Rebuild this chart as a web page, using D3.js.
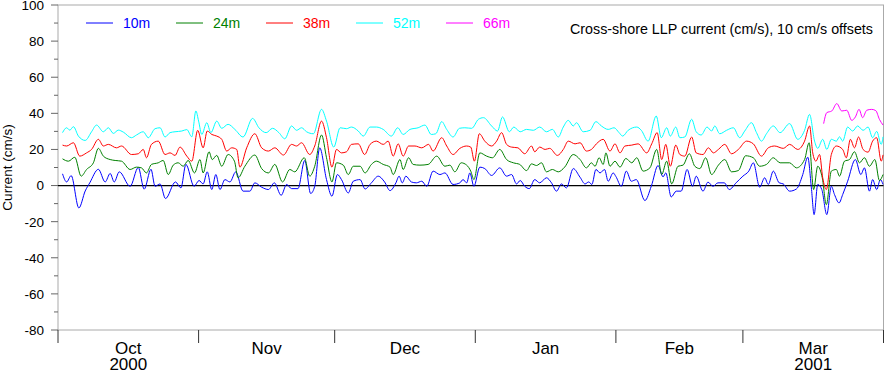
<!DOCTYPE html>
<html>
<head>
<meta charset="utf-8">
<script src="https://cdn.jsdelivr.net/npm/d3@7"></script>
<style>
  body { margin: 0; background: white; }
  svg text { font-family: "Liberation Sans", Arial, Helvetica, sans-serif; }
</style>
</head>
<body>
<div id="chart"></div>
<script>
let w = 885;
let h = 372;

// days since 1 Oct 2000, current (cm/s) with the 10 cm/s offsets already added
let days10 = [1.0,1.9,2.9,4.6,6.0,7.0,8.9,10.4,11.5,12.4,13.5,15.9,17.7,19.0,20.5,21.4,22.5,23.7,25.9,27.1,28.2,30.0,31.1,32.0,32.9,33.9,34.8,35.7,36.8,37.9,39.2,40.8,42.3,43.4,44.9,46.4,47.7,49.2,50.4,51.5,52.9,54.4,55.7,56.6,57.7,59.2,60.4,61.6,62.5,64.0,65.1,66.6,67.7,69.1,70.6,72.0,73.2,74.5,75.2,75.9,76.7,77.9,79.0,80.2,81.3,82.7,84.2,85.3,87.1,88.6,89.3,90.1,90.8,91.7,93.0,94.1,95.6,97.4,98.9,100.0,101.1,101.9,102.9,103.9,105.1,106.2,107.7,108.8,109.9,111.0,112.1,113.6,115.1,116.2,117.0,117.7,118.6,
  119.5,120.5,121.3,122.4,123.0,124.2,125.3,126.4,127.5,129.4,130.8,132.3,133.4,134.0,135.2,136.3,137.4,138.7,139.9,140.7,142.2,143.3,144.4,145.5,146.9,148.0,149.5,151.0,152.3,153.3,154.7,155.8,156.6,157.7,159.0,159.9,161.3,162.8,164.2,165.3,166.1,166.7,167.5,168.4,169.5,170.5,171.2,172.2,173.0,174.1,175.8,177.0,177.8,178.9,179.6,180.5,181.3,181.9];
let cur10 = [6.5,2,5.5,-12.4,-3,1.5,9,2,6.7,2,7.6,-0.4,10,-2,9,-0.4,0.9,-7.2,2,-1.3,11.7,-0.4,2.8,0.9,7.6,-2.2,6.1,-2.2,3.3,2,7.6,-3.1,-3.1,1.5,-0.9,-2.2,1.5,-5.4,0.6,-1.7,-1.7,13.9,-4.4,-0.4,20.9,3.3,-5.9,6.1,3.3,-4.1,2.4,3.3,-1.9,1.5,5.2,2,-2.8,1.5,5.2,1.5,5.2,2,1.5,2.4,-0.4,8,6.1,7,0.6,1.5,3.3,1.5,7,-0.4,10.2,9.4,5.6,9.8,5.2,6.1,0.9,2.8,-0.4,-1.7,3.3,1.5,4.3,1.5,-3.1,0.9,-1.3,9.4,4.6,0.9,2,0.6,8.9,
  7,8.9,2.4,7,5,-0.4,8,2.4,3.3,-8.3,-0.4,11.1,4.8,7,-6.3,-3.1,-3.1,8.9,-0.4,5.2,-3.1,1.9,-0.4,1.5,1.5,-2.2,1.5,5.2,8,12.6,-0.9,4.3,0.6,8,1.5,0.9,-3.1,-1.9,6.1,15.7,-1.3,-16.1,0.6,-2.2,-16.1,-0.4,-5,-9.6,-5,2.4,14.4,6.1,9.8,-3.1,3.3,-2.2,3.3,0.6];

let days24 = [1.0,2.3,3.7,5.1,6.3,7.8,8.9,10.0,11.5,12.6,14.0,15.9,17.3,18.4,19.5,20.6,22.1,23.2,24.3,25.4,26.5,27.6,28.7,30.1,31.3,32.0,33.3,34.0,35.0,36.1,37.5,38.9,39.7,41.2,43.4,44.9,46.4,47.8,49.5,51.1,52.2,54.3,55.5,56.6,58.1,59.2,60.4,61.4,62.9,64.0,65.1,66.6,67.7,69.1,70.2,71.7,73.2,73.9,75.4,76.1,77.3,78.3,79.8,81.6,83.5,85.3,86.4,87.5,88.9,90.1,91.0,91.7,93.0,94.5,95.8,97.4,98.9,100.4,101.8,103.3,104.4,105.5,106.6,107.7,109.0,110.3,111.7,113.6,115.1,116.5,117.6,118.4,119.3,120.2,120.8,121.7,122.8,123.9,125.2,126.5,127.6,129.0,130.5,132.0,133.1,134.2,135.3,136.7,137.8,139.2,140.4,141.5,142.8,144.1,145.6,147.0,148.5,150.0,151.6,153.3,154.7,156.2,157.7,159.2,
  161.3,162.8,164.6,165.6,166.6,167.5,168.5,169.4,170.5,171.6,172.3,173.4,174.5,175.6,176.7,177.8,178.9,180.1,181.1,181.9];
let cur24 = [14.8,13.5,15.7,5.2,8.9,12.6,20.6,16.3,14.4,13.9,13.5,8.9,10.2,9.8,7,11.7,12.6,13.9,6.1,11.3,12.6,10.7,13.9,7,14.4,7,18.7,14.4,16.7,10.7,17.2,13.5,4.3,10.7,16.9,9.4,7,11.7,2,8.9,7.6,15.4,5.2,10.7,28,15.4,2,12.6,11.3,6.1,10.7,10.7,7,11.7,13.5,11.7,10.2,6.1,14.4,8.9,15.4,11.7,11.3,11.7,16.3,10.7,11.3,7.6,12.6,11.3,8,3.3,18.1,16.3,15.4,20,14.4,12.6,11.7,8.3,12,11.1,12.6,7.6,8.9,7.6,10.2,17.2,14.4,9.8,12.6,10.7,15.4,11.7,18.1,10.7,13.5,10.2,15,12.6,15.4,8,9.8,20,6.1,13.5,0.9,10.7,11.3,17.6,10.7,9.4,15.4,6.1,11.3,14.4,7.6,8.3,16.5,15.4,10.7,11.7,15.4,12.6,
  12.6,9.8,14.4,23.7,-2.2,10.7,4.3,-10.6,8,8.9,5.2,13.5,14.4,18.7,12.6,15.4,10.7,14.4,2.8,6.1];

let days38 = [1.0,1.9,3.4,4.8,6.3,7.4,8.9,10.0,11.1,12.9,14.0,16.2,17.7,18.8,19.5,20.6,22.1,23.6,24.7,25.8,26.9,28.4,29.5,30.8,32.0,32.9,33.9,35.0,36.1,37.2,38.3,39.4,40.1,41.6,43.4,44.9,46.4,47.8,49.7,51.5,52.6,53.7,55.5,56.6,58.1,59.2,60.4,61.4,62.5,63.6,64.7,66.2,67.6,68.8,70.2,71.7,72.8,73.9,75.0,76.1,77.3,78.7,80.2,81.7,82.7,84.6,85.7,87.1,88.6,90.1,91.0,91.8,92.9,94.1,95.6,96.7,97.8,98.9,100.0,101.4,102.9,104.4,105.1,106.2,107.4,108.4,110.1,111.4,112.5,114.0,115.1,116.5,117.6,118.7,120.2,121.7,122.8,123.9,125.0,126.5,127.9,129.8,130.9,132.1,133.1,134.0,135.0,136.2,137.1,138.2,139.7,140.7,142.2,143.4,144.5,145.6,147.0,148.5,150.0,151.8,153.3,155.1,156.6,158.0,159.9,
  161.3,163.1,164.6,165.7,166.4,167.1,167.9,168.6,169.4,170.5,171.6,173.0,173.8,174.7,175.6,176.5,177.5,178.6,179.6,180.5,181.5,181.9];
let cur38 = [22.4,21.9,23.7,16.3,18.1,20,25.6,21.9,22.8,20.9,21.9,17.2,17.6,20,15.4,22.8,24.6,17.2,18.1,16.7,21.3,16.3,13.5,30.6,20.9,30.2,28.3,27.4,25.6,19.1,20.9,20,10.2,20.9,28.7,20.9,19.1,20.9,16.9,22.8,21.9,23.7,17.2,21.9,35.7,26.5,10.2,20,18.1,18.7,22.8,23.1,17.2,22.8,24.6,22.8,24.6,16.3,23.1,16.3,21.9,21.9,20.9,22.8,19.1,26.5,21.9,17.2,20.6,21.9,21.3,13.5,28.7,24.6,21.9,24.6,29.3,22.8,21.3,20.9,17.6,21.9,18.7,21.3,20,20.6,16.7,20,24.6,23.1,23.7,19.1,20,23.1,25.6,19.1,23.1,18.1,21.9,22.4,23.1,18.1,23.1,29.3,14.4,22.8,10.7,22.4,17.2,16.3,26.9,18.1,17.2,20.9,18.1,20,22.8,17.6,20,24.6,23.1,16.3,20.9,21.9,20.6,
  22.8,20,24.6,33,18.1,13.5,17.2,4.3,-2.2,17.2,21.9,20,15.4,25.6,20.9,26.9,20,18.5,24.6,26.5,13.5,17];

let days52 = [1.0,1.9,2.6,3.4,4.5,6.0,7.4,8.5,10.0,11.1,12.2,13.3,14.4,16.2,17.3,18.8,19.9,21.4,22.5,23.6,24.7,25.8,27.3,28.4,29.5,30.4,31.0,31.7,32.8,33.7,35.0,36.1,37.5,39.0,40.8,42.9,44.3,45.9,47.3,48.7,50.0,51.5,52.6,53.7,54.8,56.3,58.1,59.2,60.8,62.2,63.6,64.7,66.2,67.3,68.8,70.2,71.7,73.5,74.9,76.1,77.6,79.4,80.9,82.3,83.3,84.6,85.7,87.1,88.5,89.7,91.2,92.7,93.8,95.6,96.9,98.0,99.5,100.5,101.9,103.3,104.8,106.2,107.7,109.0,110.3,111.4,112.5,113.6,114.3,115.8,117.3,118.6,119.8,121.3,122.6,123.7,124.5,125.7,127.6,128.6,130.1,131.9,133.0,134.2,135.0,136.2,137.1,138.2,139.7,140.7,141.8,143.1,144.1,144.8,145.9,147.4,148.9,150.3,151.4,152.9,154.0,155.1,156.2,157.7,159.2,
  161.3,163.1,164.6,165.7,166.8,167.5,168.6,169.5,170.5,171.6,172.3,173.0,174.1,175.2,176.3,177.5,178.6,179.6,180.5,181.5,181.9];
let cur52 = [29.3,32,30.7,32.6,27.4,25,29.8,33.5,29.8,32,28.9,30.7,29.6,26.5,28,29.8,26.5,31.5,32,26.9,29.3,29.8,30.2,31,27,41.3,35.7,28.3,34.8,29.3,35.7,31.7,33.9,31.1,26.9,37.2,32,29.3,31.7,29.3,25.9,33,30.6,32,29.8,28.7,42.2,35.7,21.3,32,31.5,32.4,30.2,27.4,32.4,32.4,31.1,27.4,32,28.3,31.1,32,33.5,28.3,28.7,35.4,31.1,26.9,31.7,32,31.7,36.7,37.6,33,30.2,38,29.8,32.4,29.8,31.1,30.6,32.4,29.8,31.1,26.9,32.4,36.1,33,34.8,29.8,30.6,35.4,33,31.1,32,29.3,27.4,30.6,32.4,30.6,24.6,38.5,26.5,32,27.4,32.4,26.5,26.9,36.7,29.8,28,32.4,30.2,33,28.7,30.6,32,26.5,30.2,34.8,29.3,24.6,28.7,33,29.3,
  34.3,25.6,30.6,39.4,24.6,20.6,25.6,20,25.6,24.6,27,24.6,32.4,30.2,33,30.6,32.4,26.5,30,22.8,27];

let days66 = [168.8,169.5,170.6,171.7,172.8,173.9,175.0,175.8,176.6,177.4,178.3,179.4,180.3,181.1,181.9];
let cur66 = [34.3,40.4,41.3,45.4,41.3,41.7,36.1,38,42.2,37.6,41.7,42.2,41.5,36.7,33.5];

let seriesNames = ["10m", "24m", "38m", "52m", "66m"];
let seriesColors = ["#0000ff", "#008000", "#ff0000", "#00ffff", "#ff00ff"];
let yTicks = [-80, -60, -40, -20, 0, 20, 40, 60, 80, 100];

let start = new Date(2000, 9, 1);
let end = new Date(2001, 3, 1);
let dayMs = 86400000;

let margin = {left: 58, right: 1, top: 5, bottom: 42};

let viz = d3.select("#chart")
  .append("svg")
    .attr("width", w)
    .attr("height", h)
    .style("background-color", "white");

let xScale = d3.scaleTime().domain([start, end]).range([margin.left, w - margin.right - 0.5]);
let yScale = d3.scaleLinear().domain([-80, 100]).range([h - margin.bottom, margin.top]);

let allDays = [days10, days24, days38, days52, days66];
let allCur = [cur10, cur24, cur38, cur52, cur66];

let series = seriesNames.map((name, i) => {
  return {
    name: name,
    color: seriesColors[i],
    values: allDays[i].map((d, j) => ({date: new Date(start.getTime() + d * dayMs), v: allCur[i][j]}))
  };
});

let x0 = xScale.range()[0], x1 = xScale.range()[1];
let yTop = yScale(100), yBot = yScale(-80);

// frame
viz.append("rect")
  .attr("x", x0).attr("y", yTop)
  .attr("width", x1 - x0).attr("height", yBot - yTop)
  .attr("fill", "none")
  .attr("stroke", "#aaa")
  .attr("stroke-width", 1);

// y axis ticks
let yAxis = viz.append("g");
yAxis.selectAll(".major").data(yTicks).enter().append("line")
  .attr("x1", x0 - 7).attr("x2", x0)
  .attr("y1", d => yScale(d)).attr("y2", d => yScale(d))
  .attr("stroke", "#666");
yAxis.selectAll(".minor").data(d3.range(-70, 100, 20)).enter().append("line")
  .attr("x1", x0 - 4).attr("x2", x0)
  .attr("y1", d => yScale(d)).attr("y2", d => yScale(d))
  .attr("stroke", "#666");
yAxis.selectAll("text").data(yTicks).enter().append("text")
  .attr("x", x0 - 14)
  .attr("y", d => yScale(d))
  .attr("dy", "0.36em")
  .attr("text-anchor", "end")
  .attr("font-size", "13.5px")
  .attr("fill", "black")
  .text(d => d);

viz.append("text")
  .attr("transform", `translate(12,${(yTop + yBot) / 2}) rotate(-90)`)
  .attr("text-anchor", "middle")
  .attr("font-size", "13.5px")
  .text("Current (cm/s)");

// x axis: month boundaries + centred labels
let months = d3.timeMonth.range(start, d3.timeDay.offset(end, 1));
viz.selectAll(".mtick").data(months).enter().append("line")
  .attr("x1", d => xScale(d)).attr("x2", d => xScale(d))
  .attr("y1", yBot).attr("y2", yBot + 13)
  .attr("stroke", "#333");

let monthFmt = d3.timeFormat("%b");
let labelMonths = months.slice(0, -1);
viz.selectAll(".mlabel").data(labelMonths).enter().append("text")
  .attr("x", d => (xScale(d) + xScale(d3.timeMonth.offset(d, 1))) / 2)
  .attr("y", yBot + 24)
  .attr("text-anchor", "middle")
  .attr("font-size", "17px")
  .text(d => monthFmt(d));
viz.selectAll(".ylabel").data(labelMonths.filter(d => d.getMonth() === 9 || d.getMonth() === 2)).enter().append("text")
  .attr("x", d => (xScale(d) + xScale(d3.timeMonth.offset(d, 1))) / 2)
  .attr("y", yBot + 40)
  .attr("text-anchor", "middle")
  .attr("font-size", "17px")
  .text(d => d.getFullYear());

// zero line
viz.append("line")
  .attr("x1", x0).attr("x2", x1)
  .attr("y1", yScale(0)).attr("y2", yScale(0))
  .attr("stroke", "black")
  .attr("stroke-width", 1.2);

let line = d3.line()
  .x(d => xScale(d.date))
  .y(d => yScale(d.v))
  .curve(d3.curveMonotoneX);

viz.selectAll(".series").data(series).enter().append("path")
  .attr("class", "series")
  .attr("d", d => line(d.values))
  .attr("fill", "none")
  .attr("stroke", d => d.color)
  .attr("stroke-width", 1);

// legend
let legend = viz.selectAll(".legend").data(series).enter().append("g")
  .attr("transform", (d, i) => `translate(${86 + i * 90},23)`);
legend.append("line")
  .attr("x1", 0).attr("x2", 27)
  .attr("stroke", d => d.color);
legend.append("text")
  .attr("x", 37).attr("dy", "0.36em")
  .attr("font-size", "14px")
  .attr("fill", d => d.color)
  .text(d => d.name);

viz.append("text")
  .attr("x", 873).attr("y", 34)
  .attr("text-anchor", "end")
  .attr("font-size", "14.3px")
  .text("Cross-shore LLP current (cm/s), 10 cm/s offsets");
</script>
</body>
</html>
